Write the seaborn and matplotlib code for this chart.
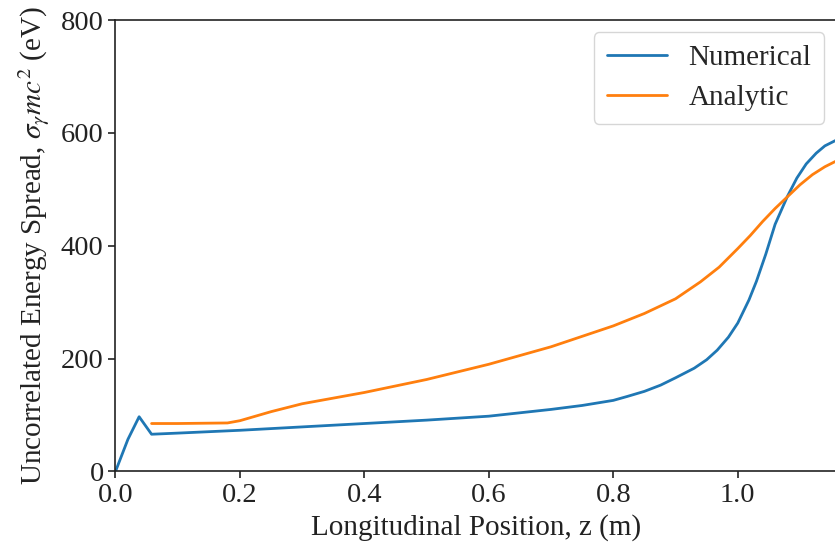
import matplotlib
matplotlib.use("Agg")
import matplotlib.pyplot as plt
import seaborn as sns
import pandas as pd

z_num = [0, 0.02, 0.038, 0.058, 0.1, 0.2, 0.3, 0.4, 0.5, 0.6, 0.7, 0.75, 0.8, 0.8225,
         0.85, 0.876, 0.9, 0.93, 0.95, 0.967, 0.985, 1.0, 1.018, 1.03, 1.045, 1.06,
         1.08, 1.095, 1.11, 1.126, 1.14, 1.158]
e_num = [0, 57, 97, 66, 68, 73, 79, 85, 91, 98, 110, 117, 126, 133,
         142, 153, 166, 183, 198, 215, 238, 263, 304, 337, 385, 438,
         488, 520, 545, 564, 577, 587]

z_ana = [0.058, 0.1, 0.18, 0.2, 0.25, 0.3, 0.4, 0.5, 0.6, 0.7, 0.8, 0.85, 0.9,
         0.94, 0.97, 1.0, 1.02, 1.04, 1.06, 1.08, 1.1, 1.12, 1.14, 1.158]
e_ana = [85, 85, 86, 90, 106, 120, 140, 163, 190, 221, 258, 280, 306,
         336, 362, 395, 418, 443, 466, 487, 508, 526, 540, 550]

labels = ["Numerical", "Analytic"]
xticks = [0.0, 0.2, 0.4, 0.6, 0.8, 1.0]
yticks = [0, 200, 400, 600, 800]

df = pd.concat([
    pd.DataFrame({"z": z_num, "E": e_num, "series": labels[0]}),
    pd.DataFrame({"z": z_ana, "E": e_ana, "series": labels[1]}),
])

sns.set_theme(style="ticks")
plt.rcParams["font.family"] = ["Liberation Serif", "DejaVu Serif"]
plt.rcParams["mathtext.fontset"] = "stix"

fig = plt.figure(figsize=(8.35, 5.44), dpi=100)
ax = fig.add_axes([0.1383, 0.1333, 0.8630, 0.8299])
sns.lineplot(data=df, x="z", y="E", hue="series", sort=False,
             palette=["#1f77b4", "#ff7f0e"], linewidth=2, ax=ax)

ax.set_xlim(0, 1.158)
ax.set_ylim(0, 800)
ax.set_xticks(xticks)
ax.set_xticklabels([f"{t:.1f}" for t in xticks])
ax.set_yticks(yticks)
ax.tick_params(labelsize=20.5, direction="out", length=5, width=1.2, colors="#222222")
for s in ax.spines.values():
    s.set_color("#222222")
    s.set_linewidth(1.2)
ax.spines["right"].set_visible(False)
ax.set_xlabel("Longitudinal Position, z (m)", fontsize=21, color="#222222", labelpad=4)
ax.set_ylabel(r"Uncorrelated Energy Spread, $\sigma_\gamma mc^2$ (eV)", fontsize=21,
              color="#222222", labelpad=6)
leg = ax.legend(loc="upper right", fontsize=21, frameon=True, title=None,
                handlelength=2.05, borderpad=0.45, labelspacing=0.45, handletextpad=0.75,
                borderaxespad=0.4)
leg.get_frame().set_edgecolor("#cccccc")

fig.savefig("out.png", dpi=100)
